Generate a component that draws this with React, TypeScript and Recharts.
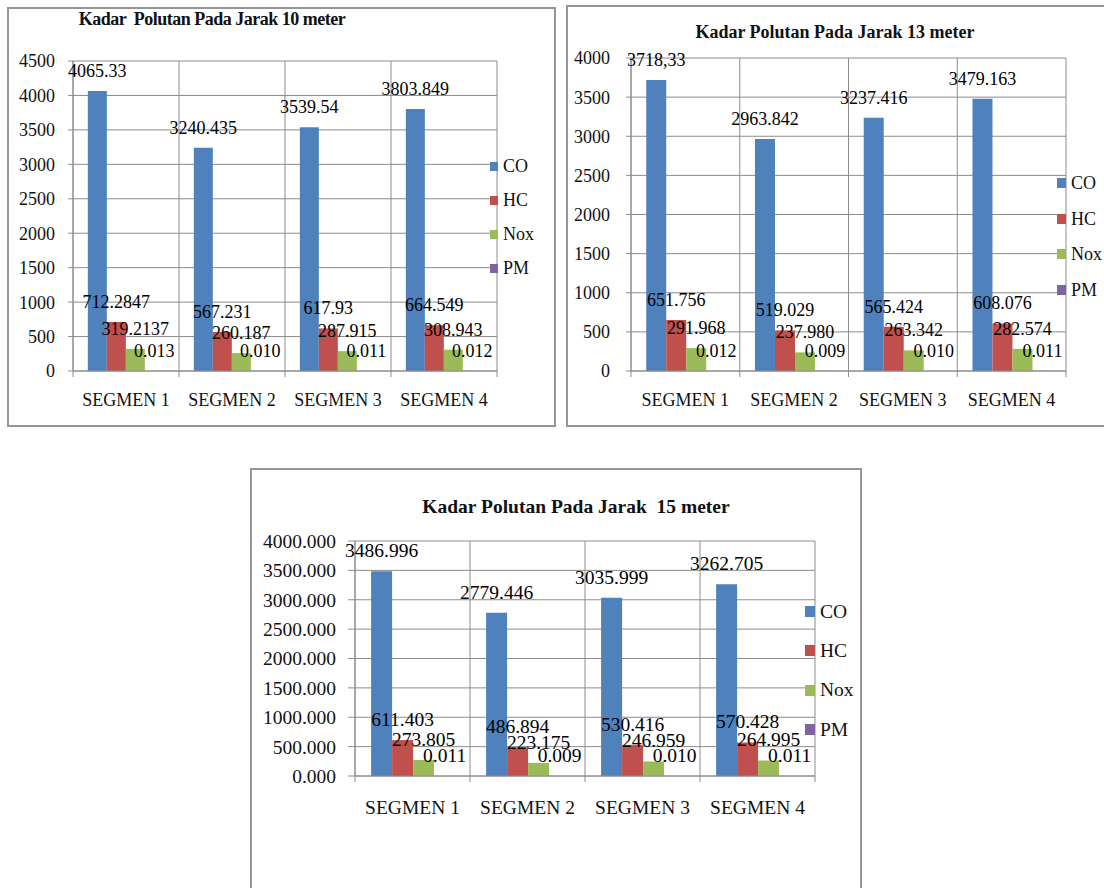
import React from 'react';
import { BarChart, Bar, XAxis, YAxis, CartesianGrid, Legend, LabelList } from 'recharts';

const FONT = "'Liberation Serif', 'Times New Roman', serif";
const GRID = '#8c8c8c';

const CATEGORIES = ['SEGMEN 1', 'SEGMEN 2', 'SEGMEN 3', 'SEGMEN 4'];
const SERIES = ['CO', 'HC', 'Nox', 'PM'];
const COLORS = ['#4F81BD', '#C0504D', '#9BBB59', '#8064A2'];

// nilai ditulis persis seperti label di gambar (termasuk koma pada 3718,33)
const CO_10 = ['4065.33', '3240.435', '3539.54', '3803.849'];
const HC_10 = ['712.2847', '567.231', '617.93', '664.549'];
const NOX_10 = ['319.2137', '260.187', '287.915', '308.943'];
const PM_10 = ['0.013', '0.010', '0.011', '0.012'];

const CO_13 = ['3718,33', '2963.842', '3237.416', '3479.163'];
const HC_13 = ['651.756', '519.029', '565.424', '608.076'];
const NOX_13 = ['291.968', '237.980', '263.342', '282.574'];
const PM_13 = ['0.012', '0.009', '0.010', '0.011'];

const CO_15 = ['3486.996', '2779.446', '3035.999', '3262.705'];
const HC_15 = ['611.403', '486.894', '530.416', '570.428'];
const NOX_15 = ['273.805', '223.175', '246.959', '264.995'];
const PM_15 = ['0.011', '0.009', '0.010', '0.011'];

const TICKS_10 = [0, 500, 1000, 1500, 2000, 2500, 3000, 3500, 4000, 4500];
const TICKS_13 = [0, 500, 1000, 1500, 2000, 2500, 3000, 3500, 4000];
const TICKS_15 = [0, 500, 1000, 1500, 2000, 2500, 3000, 3500, 4000];

const toNum = (s: string) => parseFloat(s.replace(',', '.'));

const buildRows = (cols: string[][]) =>
  CATEGORIES.map((name, i) => {
    const row: Record<string, any> = { name };
    SERIES.forEach((s, k) => {
      row[s] = toNum(cols[k][i]);
      row[s + '_label'] = cols[k][i];
    });
    return row;
  });

interface ChartCfg {
  id: string;
  title: string;
  cols: string[][];
  ticks: number[];
  decimals: number;
  x: number; y: number; w: number; h: number;
  margin: { top: number; right: number; bottom: number; left: number };
  yWidth: number;
  tickSize: number;
  tickMargin: number;
  fontSize: number;
  labelDy: number;
  titleX: number; titleY: number; titleSpacing: number;
  legendX: number; legendY: number; legendRow: number; swatch: number;
}

const CHARTS: ChartCfg[] = [
  {
    id: 'c10', title: 'Kadar  Polutan Pada Jarak 10 meter',
    cols: [CO_10, HC_10, NOX_10, PM_10], ticks: TICKS_10, decimals: 0,
    x: 7, y: 7, w: 549, h: 420,
    margin: { top: 54, right: 59, bottom: 26, left: 6 }, yWidth: 60,
    tickSize: 5, tickMargin: 13, fontSize: 18, labelDy: 29,
    titleX: 205, titleY: 12, titleSpacing: -0.5,
    legendX: 483, legendY: 142, legendRow: 34, swatch: 8,
  },
  {
    id: 'c13', title: 'Kadar Polutan Pada Jarak 13 meter',
    cols: [CO_13, HC_13, NOX_13, PM_13], ticks: TICKS_13, decimals: 0,
    x: 566, y: 5, w: 545, h: 422,
    margin: { top: 53, right: 45, bottom: 26, left: 5 }, yWidth: 60,
    tickSize: 5, tickMargin: 16, fontSize: 18, labelDy: 29,
    titleX: 269, titleY: 27, titleSpacing: 0,
    legendX: 491, legendY: 160, legendRow: 35.7, swatch: 9,
  },
  {
    id: 'c15', title: 'Kadar Polutan Pada Jarak  15 meter',
    cols: [CO_15, HC_15, NOX_15, PM_15], ticks: TICKS_15, decimals: 3,
    x: 250, y: 468, w: 612, h: 430,
    margin: { top: 73, right: 47, bottom: 92, left: 5 }, yWidth: 100,
    tickSize: 7, tickMargin: 12, fontSize: 19.5, labelDy: 31,
    titleX: 326, titleY: 39, titleSpacing: 0,
    legendX: 555, legendY: 124, legendRow: 39.3, swatch: 10,
  },
];

const CategoryTick = (props: any) => {
  const { x, y, payload, index, band, fontSize, labelDy } = props;
  const half = band / 2;
  return (
    <g>
      <line x1={x - half} x2={x - half} y1={y} y2={y + 6} stroke={GRID} />
      {index === CATEGORIES.length - 1 && (
        <line x1={x + half} x2={x + half} y1={y} y2={y + 6} stroke={GRID} />
      )}
      <text x={x} y={y + labelDy} textAnchor="middle" dominantBaseline="central"
        fill="#111" fontSize={fontSize} fontFamily={FONT}>
        {payload.value}
      </text>
    </g>
  );
};

const makeLegend = (cfg: ChartCfg) => (props: any) => {
  const items = props.payload && props.payload.length
    ? props.payload.map((p: any) => ({ name: p.value, color: p.color }))
    : SERIES.map((s, i) => ({ name: s, color: COLORS[i] }));
  return (
    <div>
      {items.map((it: any) => (
        <div key={it.name} style={{ height: cfg.legendRow, display: 'flex', alignItems: 'center' }}>
          <span style={{ display: 'inline-block', width: cfg.swatch, height: cfg.swatch + 1, background: it.color, marginRight: 5 }} />
          <span style={{ fontFamily: FONT, fontSize: cfg.fontSize, color: '#111', lineHeight: 1 }}>{it.name}</span>
        </div>
      ))}
    </div>
  );
};

const PollutantChart = ({ cfg }: { cfg: ChartCfg }) => {
  const rows = buildRows(cfg.cols);
  const plotW = cfg.w - cfg.margin.left - cfg.yWidth - cfg.margin.right;
  const band = plotW / CATEGORIES.length;
  const fmt = (v: number) => (cfg.decimals ? v.toFixed(cfg.decimals) : String(v));

  return (
    <div style={{ position: 'absolute', left: cfg.x, top: cfg.y, width: cfg.w, height: cfg.h }}>
      <div style={{ position: 'absolute', inset: 0, border: '2px solid #959595', boxSizing: 'border-box', pointerEvents: 'none' }} />
      <div style={{
        position: 'absolute', left: cfg.titleX, top: cfg.titleY, transform: 'translate(-50%, -50%)',
        whiteSpace: 'pre', fontFamily: FONT, fontWeight: 700, fontSize: cfg.fontSize,
        letterSpacing: cfg.titleSpacing, color: '#111', zIndex: 2,
      }}>
        {cfg.title}
      </div>
      <BarChart width={cfg.w} height={cfg.h} data={rows} margin={cfg.margin} barCategoryGap="14%" barGap={0}>
        <CartesianGrid
          stroke={GRID}
          verticalCoordinatesGenerator={({ offset }: any) =>
            CATEGORIES.map((_, i) => offset.left + i * (offset.width / CATEGORIES.length)).concat(offset.left + offset.width)
          }
        />
        <XAxis
          dataKey="name"
          axisLine={{ stroke: GRID }}
          tickLine={false}
          tickSize={0}
          tickMargin={0}
          height={30}
          interval={0}
          tick={(p: any) => <CategoryTick {...p} band={band} fontSize={cfg.fontSize} labelDy={cfg.labelDy} />}
        />
        <YAxis
          width={cfg.yWidth}
          domain={[0, cfg.ticks[cfg.ticks.length - 1]]}
          ticks={cfg.ticks}
          interval={0}
          tickFormatter={fmt}
          axisLine={{ stroke: GRID }}
          tickLine={{ stroke: GRID }}
          tickSize={cfg.tickSize}
          tickMargin={cfg.tickMargin}
          tick={{ fill: '#111', fontSize: cfg.fontSize, fontFamily: FONT }}
        />
        <Legend
          layout="vertical"
          align="center"
          verticalAlign="middle"
          wrapperStyle={{ left: cfg.legendX, top: cfg.legendY, width: 70, height: 'auto' }}
          content={makeLegend(cfg)}
        />
        {SERIES.map((s, i) => (
          <Bar key={s} dataKey={s} name={s} fill={COLORS[i]} isAnimationActive={false}>
            <LabelList dataKey={s + '_label'} position="top" offset={14}
              fill="#000" fontSize={cfg.fontSize} fontFamily={FONT} />
          </Bar>
        ))}
      </BarChart>
    </div>
  );
}

export default function App() {
  return (
    <div style={{ position: 'absolute', left: 0, top: 0, width: 1104, height: 888, background: '#fff', overflow: 'hidden' }}>
      {CHARTS.map((c) => (
        <PollutantChart key={c.id} cfg={c} />
      ))}
    </div>
  );
}
